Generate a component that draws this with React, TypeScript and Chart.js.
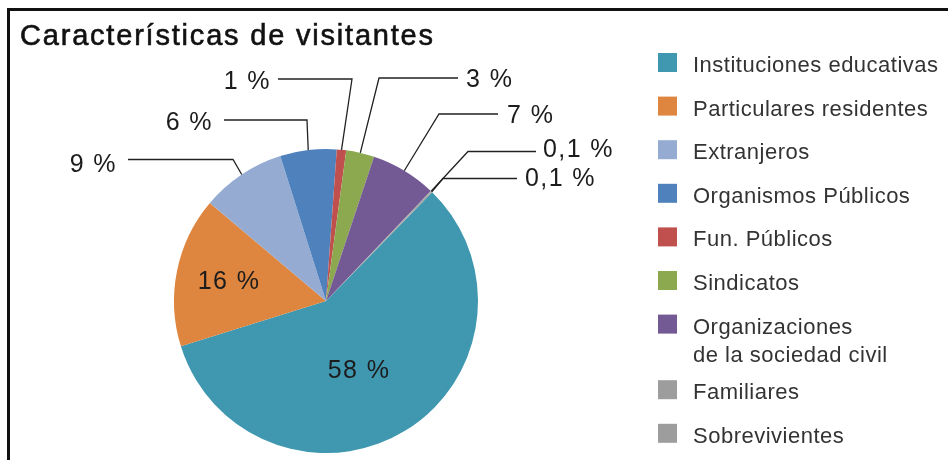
import React, { useEffect, useRef } from "react";
import Chart from "chart.js/auto";

const TITLE = "Características de visitantes";
const categories = [
  "Instituciones educativas",
  "Particulares residentes",
  "Extranjeros",
  "Organismos Públicos",
  "Fun. Públicos",
  "Sindicatos",
  "Organizaciones de la sociedad civil",
  "Familiares",
  "Sobrevivientes",
];
const legendLines = [
  ["Instituciones educativas"],
  ["Particulares residentes"],
  ["Extranjeros"],
  ["Organismos Públicos"],
  ["Fun. Públicos"],
  ["Sindicatos"],
  ["Organizaciones", "de la sociedad civil"],
  ["Familiares"],
  ["Sobrevivientes"],
];
const values = [58, 16, 9, 6, 1, 3, 7, 0.1, 0.1];
const colors = [
  "#3F97B0",
  "#DE8640",
  "#95ABD2",
  "#4F81BD",
  "#C0504D",
  "#8DA950",
  "#745A94",
  "#9D9D9D",
  "#9D9D9D",
];

// Label layout, offsets relative to the pie centre (px)
type LabelLayout =
  | { inside: true; dx: number; dy: number }
  | {
      inside: false;
      ex: number;
      ey: number;
      lineEnd: number;
      tx: number;
      ty: number;
      align: "left" | "right";
    };
const labelLayout: LabelLayout[] = [
  { inside: true, dx: 33, dy: 70 },
  { inside: true, dx: -97, dy: -19 },
  { inside: false, ex: -93, ey: -141.5, lineEnd: -198, tx: -209, ty: -129.5, align: "right" },
  { inside: false, ex: -19, ey: -181, lineEnd: -102, tx: -113, ty: -171, align: "right" },
  { inside: false, ex: 26, ey: -222, lineEnd: -48, tx: -55, ty: -211.7, align: "right" },
  { inside: false, ex: 53, ey: -223, lineEnd: 132, tx: 140, ty: -214.3, align: "left" },
  { inside: false, ex: 113, ey: -187, lineEnd: 172, tx: 181, ty: -177.7, align: "left" },
  { inside: false, ex: 142, ey: -149.5, lineEnd: 210, tx: 217, ty: -143.7, align: "left" },
  { inside: false, ex: 117, ey: -122.5, lineEnd: 191, tx: 199, ty: -115, align: "left" },
];

const FONT = '"Liberation Sans", Arial, Helvetica, sans-serif';

const fmt = (v: number) => String(v).replace(".", ",") + " %";

const decorPlugin = {
  id: "decor",
  afterDraw(chart: any) {
    const ctx: CanvasRenderingContext2D = chart.ctx;
    const meta = chart.getDatasetMeta(0);
    ctx.save();

    // frame (top + left)
    ctx.fillStyle = "#111";
    ctx.fillRect(7, 8, 941, 3);
    ctx.fillRect(7, 8, 3, 452);

    // title
    ctx.fillStyle = "#111";
    ctx.strokeStyle = "#111";
    ctx.lineWidth = 0.6;
    ctx.font = `29px ${FONT}`;
    (ctx as any).letterSpacing = "1.8px";
    ctx.textAlign = "left";
    ctx.textBaseline = "alphabetic";
    ctx.fillText(TITLE, 20, 45);
    ctx.strokeText(TITLE, 20, 45);

    // slice labels
    ctx.font = `25px ${FONT}`;
    (ctx as any).letterSpacing = "1.4px";
    meta.data.forEach((arc: any, i: number) => {
      const p = arc.getProps(["x", "y", "startAngle", "endAngle", "outerRadius"], true);
      const cx = p.x;
      const cy = p.y;
      const L = labelLayout[i];
      const text = fmt(values[i]);
      ctx.fillStyle = "#1c1c1c";
      if (L.inside) {
        ctx.textAlign = "center";
        ctx.textBaseline = "middle";
        ctx.fillText(text, cx + L.dx, cy + L.dy);
      } else {
        const mid = (p.startAngle + p.endAngle) / 2;
        const sx = cx + Math.cos(mid) * p.outerRadius;
        const sy = cy + Math.sin(mid) * p.outerRadius;
        ctx.strokeStyle = "#222";
        ctx.lineWidth = 1.3;
        ctx.beginPath();
        ctx.moveTo(sx, sy);
        ctx.lineTo(cx + L.ex, cy + L.ey);
        ctx.lineTo(cx + L.lineEnd, cy + L.ey);
        ctx.stroke();
        ctx.textAlign = L.align;
        ctx.textBaseline = "alphabetic";
        ctx.fillText(text, cx + L.tx, cy + L.ty);
      }
    });

    // legend
    ctx.font = `22px ${FONT}`;
    (ctx as any).letterSpacing = "0.5px";
    ctx.textAlign = "left";
    ctx.textBaseline = "alphabetic";
    let y = 62.5;
    legendLines.forEach((lines, i) => {
      ctx.fillStyle = colors[i];
      ctx.fillRect(658, y - 9.5, 19, 19);
      ctx.fillStyle = "#333";
      lines.forEach((ln, k) => {
        ctx.fillText(ln, 693, y + 9.5 + k * 28);
      });
      y += 43.6 + (lines.length - 1) * 22;
    });

    ctx.restore();
  },
};

export default function App() {
  const ref = useRef<HTMLCanvasElement | null>(null);
  useEffect(() => {
    if (!ref.current) return;
    const chart = new Chart(ref.current, {
      type: "pie",
      data: {
        labels: categories,
        datasets: [
          {
            data: values,
            backgroundColor: colors,
            borderWidth: 0,
          },
        ],
      },
      options: {
        animation: false,
        responsive: false,
        rotation: 44.3,
        layout: { padding: { left: 174, right: 470, top: 149, bottom: 7 } },
        plugins: {
          legend: { display: false },
          title: { display: false },
          tooltip: { enabled: false },
        },
      },
      plugins: [decorPlugin],
    });
    return () => chart.destroy();
  }, []);
  return (
    <div style={{ position: "fixed", left: 0, top: 0, width: 948, height: 460, background: "#fff" }}>
      <canvas ref={ref} width={948} height={460} style={{ display: "block" }} />
    </div>
  );
}
